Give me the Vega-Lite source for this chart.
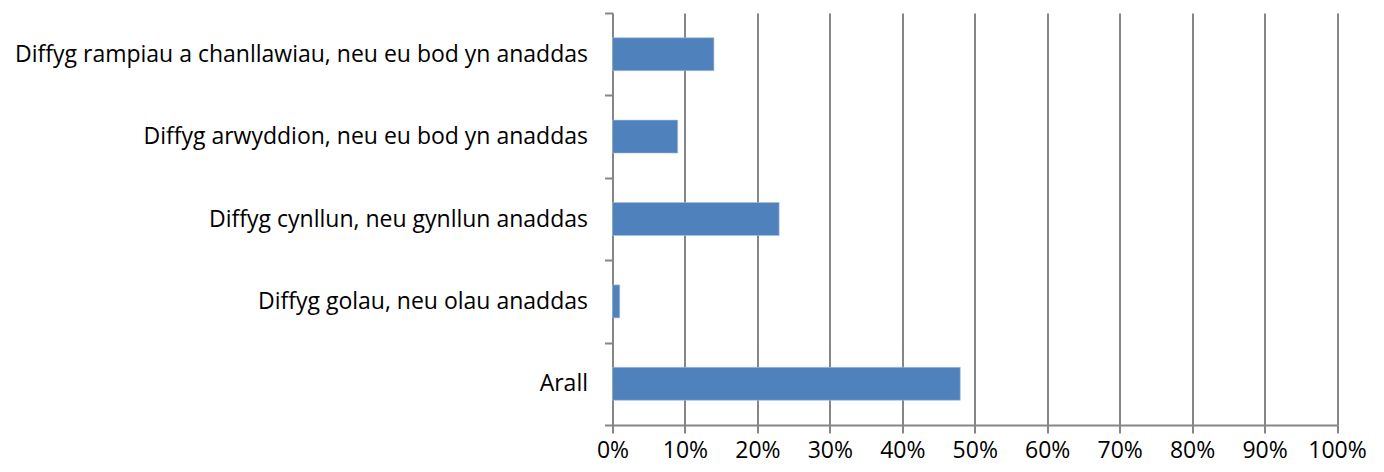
{
  "$schema": "https://vega.github.io/schema/vega-lite/v6.json",
  "width": 724.5,
  "height": 412,
  "autosize": "none",
  "padding": {"left": 612.5, "top": 13, "right": 47, "bottom": 47},
  "background": "white",
  "config": {"view": {"stroke": null}, "font": "Open Sans"},
  "data": {"values": [
    {"category": "Diffyg rampiau a chanllawiau, neu eu bod yn anaddas", "value": 0.14},
    {"category": "Diffyg arwyddion, neu eu bod yn anaddas", "value": 0.09},
    {"category": "Diffyg cynllun, neu gynllun anaddas", "value": 0.23},
    {"category": "Diffyg golau, neu olau anaddas", "value": 0.01},
    {"category": "Arall", "value": 0.48}
  ]},
  "mark": {"type": "bar", "color": "#4F81BD", "stroke": "#A9C0DF", "strokeWidth": 0.6, "height": {"band": 0.4}},
  "encoding": {
    "y": {
      "field": "category", "type": "nominal", "sort": null,
      "scale": {"paddingInner": 0, "paddingOuter": 0},
      "axis": {
        "title": null, "tickBand": "extent", "domainColor": "#868686", "domainWidth": 2,
        "tickColor": "#868686", "tickWidth": 2, "tickSize": 8, "labelPadding": 17,
        "labelFontSize": 23, "labelColor": "#000000", "labelFont": "Open Sans", "labelLimit": 700, "grid": false
      }
    },
    "x": {
      "field": "value", "type": "quantitative",
      "scale": {"domain": [0, 1], "nice": false},
      "axis": {
        "title": null, "format": "%", "values": [0,0.1,0.2,0.3,0.4,0.5,0.6,0.7,0.8,0.9,1],
        "labelOverlap": false,
        "grid": true, "gridColor": "#868686", "gridWidth": 2, "gridOpacity": 1,
        "domainColor": "#868686", "domainWidth": 2, "tickColor": "#868686", "tickWidth": 2, "tickSize": 8,
        "labelPadding": 6, "labelFontSize": 23, "labelColor": "#000000", "labelFont": "Open Sans", "labelFlush": false
      }
    }
  }
}
